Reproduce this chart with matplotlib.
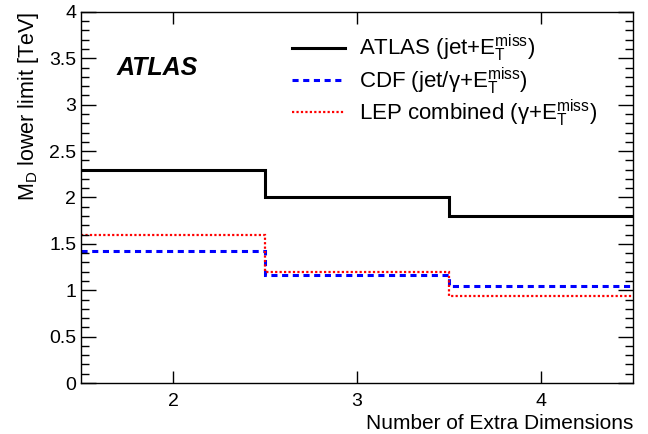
import matplotlib
matplotlib.use("Agg")
import matplotlib.pyplot as plt
from matplotlib.ticker import MultipleLocator, FormatStrFormatter

# limits vs number of extra dimensions (bins centred on 2, 3, 4)
edges = [1.5, 2.5, 3.5, 4.5]
atlas = [2.30, 2.00, 1.80]
cdf = [1.42, 1.16, 1.05]
lep = [1.60, 1.20, 0.94]

labels = [r"ATLAS (jet+E$_{\rm T}^{\rm miss}$)",
          r"CDF (jet/γ+E$_{\rm T}^{\rm miss}$)",
          r"LEP combined (γ+E$_{\rm T}^{\rm miss}$)"]

plt.rcParams["font.family"] = ["Liberation Sans", "DejaVu Sans"]
plt.rcParams["mathtext.fontset"] = "custom"
plt.rcParams["mathtext.rm"] = "Liberation Sans"
plt.rcParams["mathtext.it"] = "Liberation Sans:italic"

fig = plt.figure(figsize=(6.48, 4.34), dpi=100)
ax = fig.add_axes([0.125, 0.1175, 0.852, 0.855])

ax.stairs(atlas, edges, baseline=None, color="black", lw=2.2, label=labels[0])
ax.stairs(cdf, edges, baseline=None, color="blue", lw=2.2, ls=(0, (2, 1.5)), label=labels[1])
ax.stairs(lep, edges, baseline=None, color="red", lw=1.6, ls=(0, (1, 1)), label=labels[2])

ax.set_xlim(1.5, 4.5)
ax.set_ylim(0, 4)
ax.xaxis.set_major_locator(MultipleLocator(1))
ax.yaxis.set_major_locator(MultipleLocator(0.5))
ax.yaxis.set_minor_locator(MultipleLocator(0.1))
ax.yaxis.set_major_formatter(FormatStrFormatter("%g"))
ax.tick_params(which="both", direction="in", top=True, right=True, labelsize=14)
ax.tick_params(axis="y", which="major", length=11, width=1)
ax.tick_params(axis="y", which="minor", length=6, width=1)
ax.tick_params(axis="x", which="major", length=8.5, width=1, pad=7)
for s in ax.spines.values():
    s.set_linewidth(1)

ax.set_xlabel("Number of Extra Dimensions", fontsize=15, loc="right", labelpad=3)
ax.set_ylabel(r"M$_{\rm D}$ lower limit [TeV]", fontsize=15.5, loc="top", labelpad=6)

ax.text(0.064, 0.83, "ATLAS", transform=ax.transAxes, fontsize=18,
        fontweight="bold", fontstyle="italic")

ax.legend(loc="upper left", bbox_to_anchor=(0.382, 0.943), frameon=False,
          borderaxespad=0, borderpad=0, fontsize=16, handlelength=2.4,
          handletextpad=0.6, labelspacing=0.05)

fig.savefig("out.png", dpi=100, facecolor="white")
